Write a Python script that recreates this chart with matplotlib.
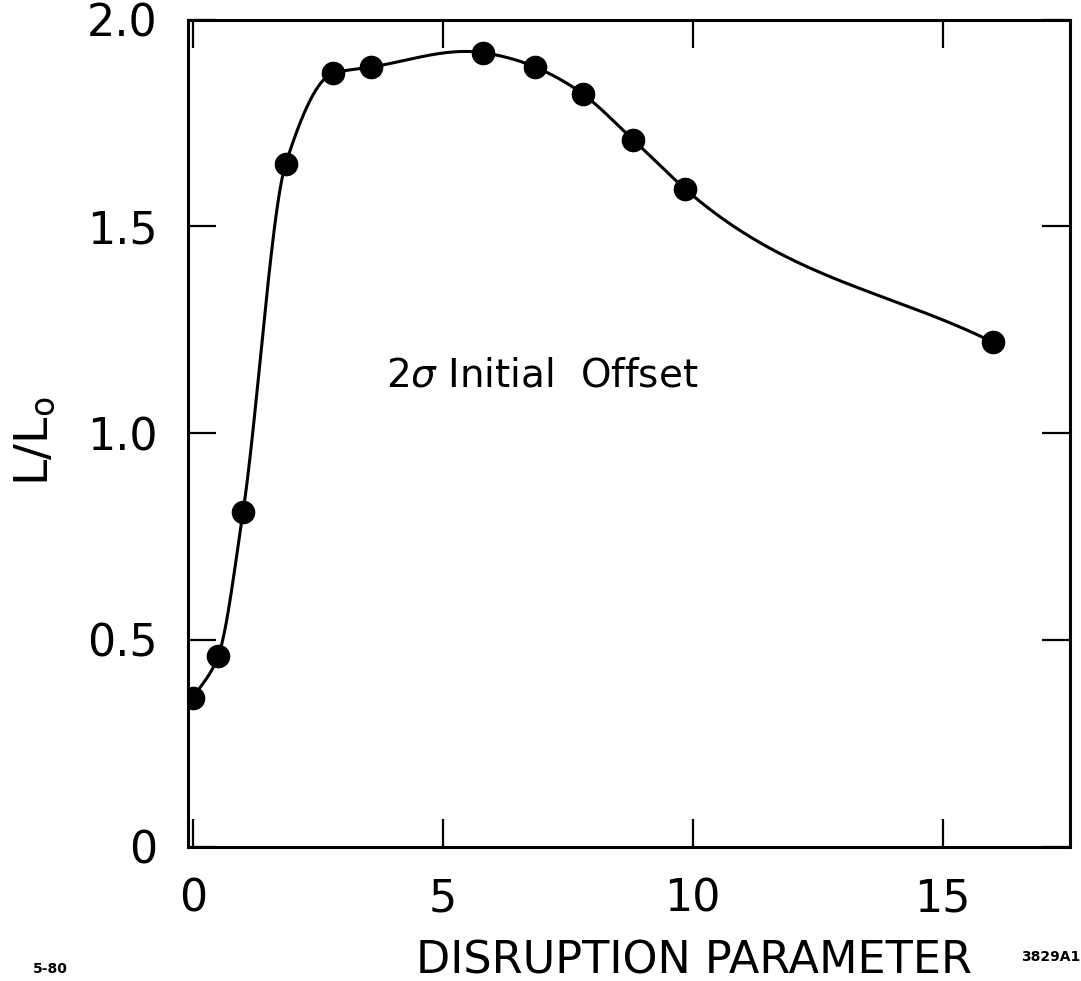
import numpy as np
import matplotlib
matplotlib.use("Agg")
import matplotlib.pyplot as plt

# luminosity enhancement vs disruption parameter, 2 sigma initial offset
disruption = [0.0, 0.5, 1.0, 1.85, 2.8, 3.55, 5.8, 6.85, 7.8, 8.8, 9.85, 16.0]
lum_ratio = [0.36, 0.46, 0.81, 1.65, 1.87, 1.885, 1.92, 1.885, 1.82, 1.71, 1.59, 1.22]

xticks = [0, 5, 10, 15]
xticklabels = ["0", "5", "10", "15"]
yticks = [0, 0.5, 1.0, 1.5, 2.0]
yticklabels = ["0", "0.5", "1.0", "1.5", "2.0"]


def smooth_curve(x, y, xs, n_monotone=5):
    # cubic hermite: monotone (Fritsch-Carlson) slopes over the steep rise,
    # plain three-point slopes over the gentle part so it stays smooth
    x = np.asarray(x, float)
    y = np.asarray(y, float)
    h = np.diff(x)
    d = np.diff(y) / h
    m = np.zeros_like(y)
    for k in range(1, len(x) - 1):
        if k < n_monotone:
            if d[k - 1] * d[k] > 0:
                w1 = 2 * h[k] + h[k - 1]
                w2 = h[k] + 2 * h[k - 1]
                m[k] = (w1 + w2) / (w1 / d[k - 1] + w2 / d[k])
        else:
            m[k] = (h[k] * d[k - 1] + h[k - 1] * d[k]) / (h[k - 1] + h[k])
    m[0] = d[0]
    m[-1] = d[-1]
    idx = np.clip(np.searchsorted(x, xs) - 1, 0, len(h) - 1)
    t = (xs - x[idx]) / h[idx]
    h00 = 2 * t**3 - 3 * t**2 + 1
    h10 = t**3 - 2 * t**2 + t
    h01 = -2 * t**3 + 3 * t**2
    h11 = t**3 - t**2
    return (h00 * y[idx] + h10 * h[idx] * m[idx]
            + h01 * y[idx + 1] + h11 * h[idx] * m[idx + 1])


fig = plt.figure(figsize=(10.81, 9.81), dpi=100)
ax = fig.add_axes([0.174, 0.137, 0.816, 0.843])

xs = np.linspace(disruption[0], disruption[-1], 800)
ax.plot(xs, smooth_curve(disruption, lum_ratio, xs), color="black", lw=2.2,
        zorder=2)
ax.plot(disruption, lum_ratio, "o", color="black", ms=16, zorder=3)

ax.set_xlim(-0.1, 17.55)
ax.set_ylim(0, 2.0)
ax.set_xticks(xticks)
ax.set_xticklabels(xticklabels)
ax.set_yticks(yticks)
ax.set_yticklabels(yticklabels)
ax.tick_params(direction="in", length=20, width=1.6, labelsize=32, pad=22,
               top=True, right=True)
for sp in ax.spines.values():
    sp.set_linewidth(2.2)

ax.set_xlabel("DISRUPTION PARAMETER", fontsize=32)
ax.xaxis.set_label_coords(0.573, -0.112)
ax.set_ylabel(r"L/L$_\mathrm{o}$", fontsize=34)
ax.yaxis.set_label_coords(-0.148, 0.49)

ax.text(3.85, 1.14, r"2$\sigma$ Initial  Offset", fontsize=28, va="center",
        ha="left")

fig.text(0.03, 0.008, "5-80", fontsize=10, fontweight="bold")
fig.text(0.999, 0.02, "3829A1", fontsize=10, fontweight="bold", ha="right")

fig.savefig("out.png", dpi=100)
